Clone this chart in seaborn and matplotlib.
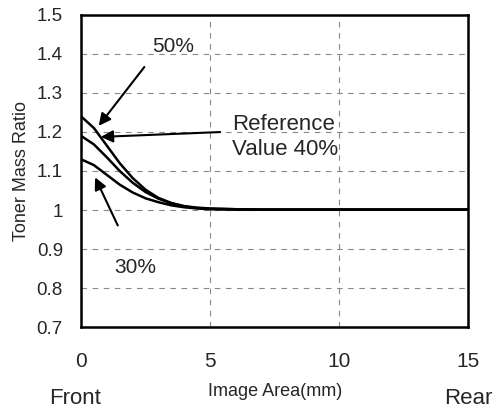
import matplotlib
matplotlib.use("Agg")
import numpy as np
import pandas as pd
import matplotlib.pyplot as plt
import seaborn as sns

# Datos
x_mm = [0, 0.5, 1.0, 1.5, 2.0, 2.5, 3.0, 3.5, 4.0, 4.5, 5.0, 6.0, 7.0, 8.0, 10.0, 12.0, 15.0]
ratio_50 = [1.24, 1.21, 1.165, 1.12, 1.082, 1.052, 1.031, 1.018, 1.010, 1.006, 1.004, 1.002, 1.001, 1.001, 1.001, 1.001, 1.001]
ratio_40 = [1.19, 1.168, 1.135, 1.10, 1.070, 1.046, 1.029, 1.017, 1.009, 1.005, 1.003, 1.002, 1.001, 1.001, 1.001, 1.001, 1.001]
ratio_30 = [1.13, 1.115, 1.09, 1.065, 1.045, 1.030, 1.020, 1.012, 1.007, 1.004, 1.002, 1.001, 1.001, 1.001, 1.001, 1.001, 1.001]
series_names = ["50%", "40%", "30%"]
y_ticks = [0.7, 0.8, 0.9, 1.0, 1.1, 1.2, 1.3, 1.4, 1.5]
x_ticks = [0, 5, 10, 15]

df = pd.concat([
    pd.DataFrame({"x": x_mm, "y": vals, "serie": name})
    for name, vals in zip(series_names, [ratio_50, ratio_40, ratio_30])
])

sns.set_style("white")
plt.rcParams["font.family"] = ["Liberation Sans", "DejaVu Sans"]

fig = plt.figure(figsize=(4.97, 4.12), dpi=100)
ax = fig.add_axes([0.163, 0.206, 0.779, 0.758])

sns.lineplot(data=df, x="x", y="y", units="serie", estimator=None,
             color="black", linewidth=1.8, ax=ax, legend=False)

ax.set_xlim(0, 15)
ax.set_ylim(0.7, 1.5)
ax.set_xticks(x_ticks)
ax.set_yticks(y_ticks)
ax.set_yticklabels([f"{v:g}" for v in y_ticks])
ax.tick_params(axis="x", length=0, pad=18, labelsize=15)
ax.tick_params(axis="y", length=0, pad=13, labelsize=13.5)
ax.grid(True, linestyle=(0, (5, 5)), color="#888888", linewidth=0.8)
for s in ax.spines.values():
    s.set_color("black")
    s.set_linewidth(1.8)

ax.set_xlabel("")
ax.set_ylabel("Toner Mass Ratio", fontsize=13, labelpad=5)

# Etiquetas del eje x
fig.text(49 / 497, 1 - 398 / 412, "Front", fontsize=16, ha="left", va="center")
fig.text(275 / 497, 1 - 392 / 412, "Image Area(mm)", fontsize=13, ha="center", va="center")
fig.text(493 / 497, 1 - 398 / 412, "Rear", fontsize=16, ha="right", va="center")

arrow = dict(arrowstyle="-|>", color="black", lw=1.5, mutation_scale=18)
ax.annotate("", xy=(0.62, 1.21), xytext=(2.52, 1.372), arrowprops=arrow)
ax.text(2.75, 1.418, "50%", fontsize=15, ha="left", va="center")
ax.annotate("", xy=(0.66, 1.187), xytext=(5.5, 1.2), arrowprops=arrow)
ax.text(5.85, 1.187, "Reference\nValue 40%", fontsize=16, ha="left", va="center",
        linespacing=1.2)
ax.annotate("", xy=(0.5, 1.09), xytext=(1.47, 0.954), arrowprops=arrow)
ax.text(2.09, 0.854, "30%", fontsize=15, ha="center", va="center")

plt.savefig("out.png", dpi=100)
